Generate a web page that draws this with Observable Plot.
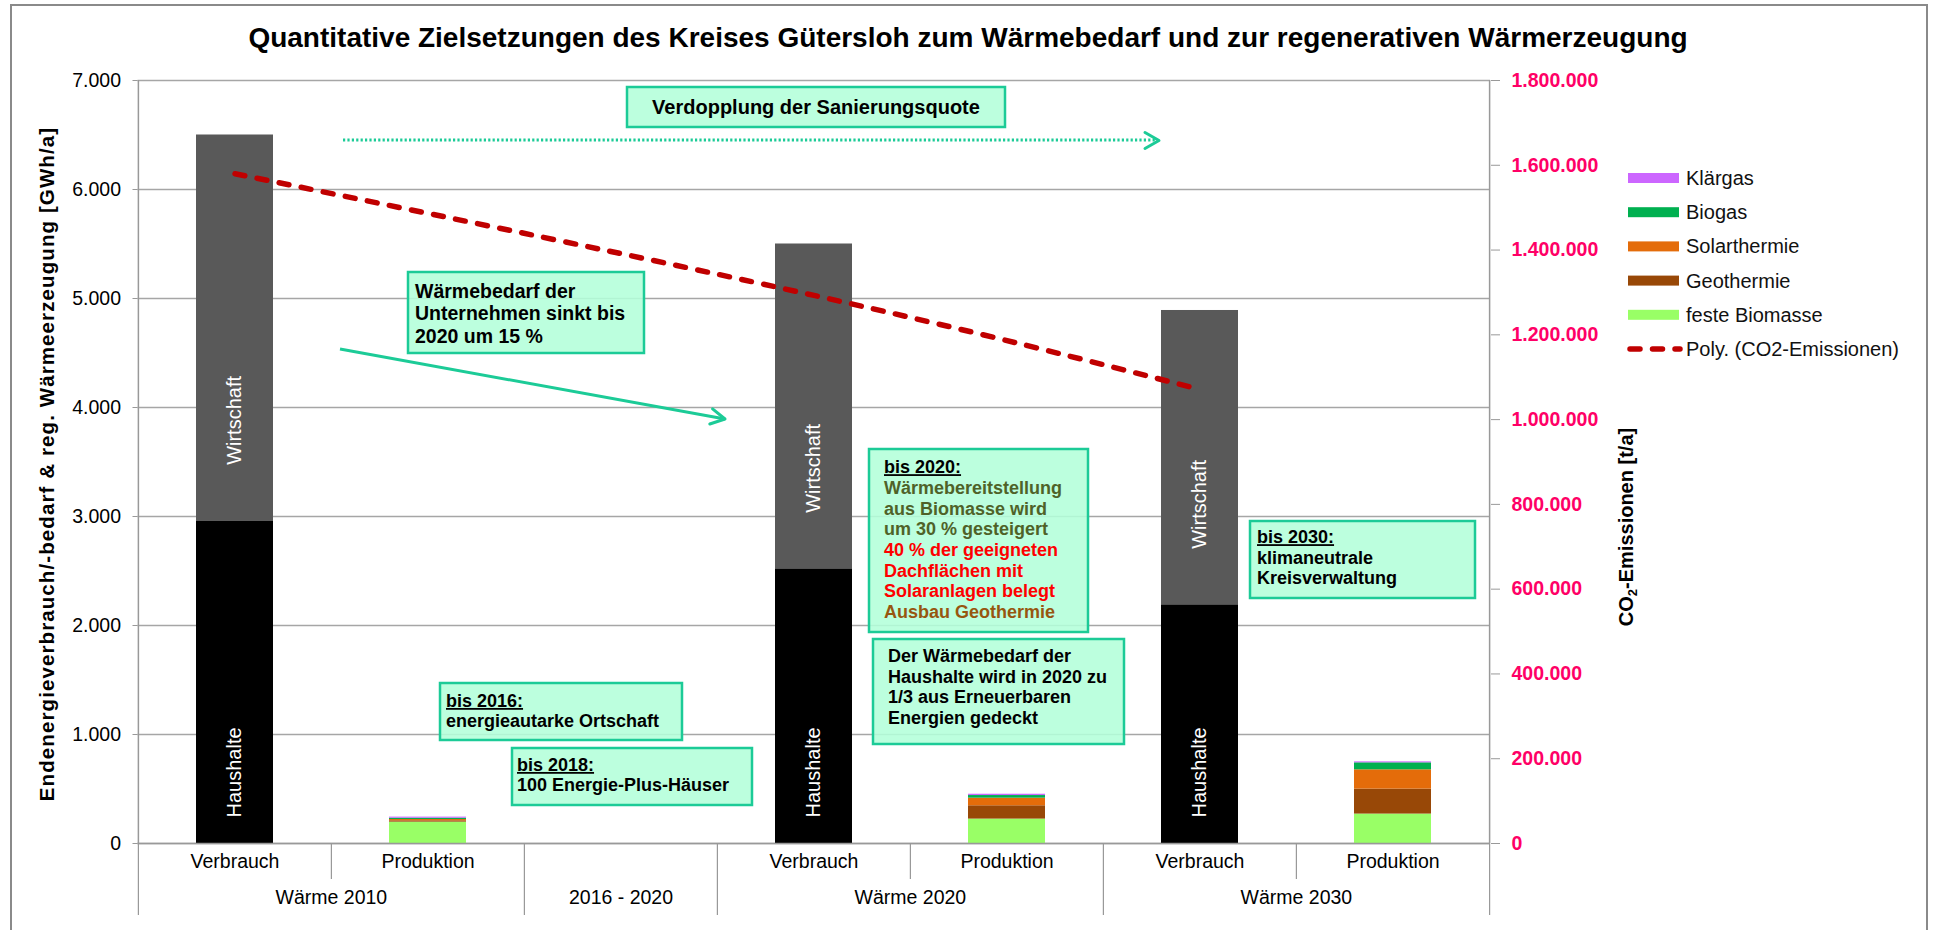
<!DOCTYPE html>
<html>
<head>
<meta charset="utf-8">
<script src="https://cdn.jsdelivr.net/npm/d3@7"></script>
<script src="https://cdn.jsdelivr.net/npm/@observablehq/plot@0.6"></script>
<style>
  html, body { margin: 0; padding: 0; background: #fff; }
  #wrap { position: relative; width: 1934px; height: 930px; overflow: hidden; font-family: "Liberation Sans", Arial, sans-serif; }
  #chart, #overlay { position: absolute; left: 0; top: 0; }
</style>
</head>
<body>
<div id="wrap">
  <div id="chart"></div>
  <svg id="overlay" width="1934" height="930"></svg>
</div>
<script>
// ---------- DATA ----------
const cats = ["V2010", "P2010", "Z1620", "V2020", "P2020", "V2030", "P2030"];
const catLabels = ["Verbrauch", "Produktion", "", "Verbrauch", "Produktion", "Verbrauch", "Produktion"];
const groupCats = ["P2010", "P2020", "P2030"];
const groupLabels = ["Wärme 2010", "Wärme 2020", "Wärme 2030"];
const midGroupCat = "Z1620";
const midGroupLabel = "2016 - 2020";

const verbrauchCats = ["V2010", "V2020", "V2030"];
const haushalte = [2960, 2520, 2190];
const wirtschaft = [3540, 2980, 2700];

const produktionCats = ["P2010", "P2020", "P2030"];
const festeBiomasse = [196, 224, 270];
const geothermie = [12, 122, 229];
const solarthermie = [12, 70, 177];
const biogas = [12, 24, 64];
const klaergas = [10, 12, 9];

const co2Cats = ["V2010", "V2020", "V2030"];
const co2 = [1580000, 1293000, 1071000];

const leftTicks = [0, 1000, 2000, 3000, 4000, 5000, 6000, 7000];
const rightTicks = [0, 200000, 400000, 600000, 800000, 1000000, 1200000, 1400000, 1600000, 1800000];

const seriesNames = ["Haushalte", "Wirtschaft", "feste Biomasse", "Geothermie", "Solarthermie", "Biogas", "Klärgas"];
const seriesColors = ["#000000", "#595959", "#99FF66", "#984807", "#E46C0A", "#00B050", "#CC66FF"];
const legendNames = ["Klärgas", "Biogas", "Solarthermie", "Geothermie", "feste Biomasse"];

// ---------- LAYOUT ----------
const W = 1934, H = 930;
const mL = 137.5, mR = W - 1490, mT = 80, mB = H - 843;
const step = (W - mL - mR) / cats.length;
const pxPer = (H - mT - mB) / 7000;
const k = 7000 / 1800000;
const fmt = v => d3.format(",.0f")(v).replace(/,/g, ".");
const FONT = '"Liberation Sans", Arial, sans-serif';

// table for stacked bars (bottom to top order)
const rows = [];
verbrauchCats.forEach((c, i) => {
  rows.push({cat: c, series: "Haushalte", value: haushalte[i]});
  rows.push({cat: c, series: "Wirtschaft", value: wirtschaft[i]});
});
produktionCats.forEach((c, i) => {
  rows.push({cat: c, series: "feste Biomasse", value: festeBiomasse[i]});
  rows.push({cat: c, series: "Geothermie", value: geothermie[i]});
  rows.push({cat: c, series: "Solarthermie", value: solarthermie[i]});
  rows.push({cat: c, series: "Biogas", value: biogas[i]});
  rows.push({cat: c, series: "Klärgas", value: klaergas[i]});
});
const co2Rows = co2Cats.map((c, i) => ({cat: c, v: co2[i] * k}));
const verbRows = verbrauchCats.map((c, i) => ({cat: c, h: haushalte[i]}));
const groupRows = groupCats.map((c, i) => ({cat: c, label: groupLabels[i]}));

const chart = Plot.plot({
  width: W, height: H,
  marginLeft: mL, marginRight: mR, marginTop: mT, marginBottom: mB,
  style: {fontFamily: FONT, fontSize: "19px", background: "transparent", overflow: "visible"},
  x: {domain: cats, paddingInner: 0.6, paddingOuter: 0.3, axis: null},
  y: {domain: [0, 7000], axis: null},
  color: {domain: seriesNames, range: seriesColors},
  marks: [
    Plot.gridY({ticks: leftTicks, stroke: "#A6A6A6", strokeOpacity: 1, strokeWidth: 1.5}),
    Plot.barY(rows, {x: "cat", y: "value", fill: "series"}),
    // axes lines
    Plot.ruleY([0], {stroke: "#999", strokeWidth: 1.5}),
    Plot.ruleX(["V2010"], {x: d => d, y1: 0, y2: 7000, dx: -step / 2, stroke: "#999", strokeWidth: 1.5}),
    Plot.ruleX(["P2030"], {x: d => d, y1: 0, y2: 7000, dx: step / 2, stroke: "#999", strokeWidth: 1.5}),
    // category dividers below axis
    Plot.ruleX(["P2010", "P2020", "P2030"], {x: d => d, y1: 0, y2: -36 / pxPer, dx: -step / 2, stroke: "#999", strokeWidth: 1.2}),
    Plot.ruleX(["V2010", "Z1620", "V2020", "V2030"], {x: d => d, y1: 0, y2: -72 / pxPer, dx: -step / 2, stroke: "#999", strokeWidth: 1.2}),
    Plot.ruleX(["P2030"], {x: d => d, y1: 0, y2: -72 / pxPer, dx: step / 2, stroke: "#999", strokeWidth: 1.2}),
    // left axis
    Plot.axisY({anchor: "left", ticks: leftTicks, tickFormat: fmt, tickSize: 5, tickPadding: 12,
      fontSize: 19.5, stroke: "#999", fill: "#000", label: null}),
    // right axis (CO2)
    Plot.axisY({anchor: "right", ticks: rightTicks.map(v => v * k), tickFormat: d => fmt(Math.round(d / k)),
      tickSize: 9, tickPadding: 12, fontSize: 19.5, fontWeight: "bold", stroke: "#999", fill: "#FF0066", label: null}),
    // category labels
    Plot.text(cats, {x: d => d, text: (d, i) => catLabels[i], frameAnchor: "bottom", dy: 24, fontSize: 19.5, fill: "#000"}),
    Plot.text(groupRows, {x: "cat", text: "label", frameAnchor: "bottom", dy: 60, dx: -step / 2, fontSize: 19.5, fill: "#000"}),
    Plot.text([midGroupCat], {x: d => d, text: () => midGroupLabel, frameAnchor: "bottom", dy: 60, fontSize: 19.5, fill: "#000"}),
    // bar labels
    Plot.text(verbRows, {x: "cat", y: () => 0, text: () => "Haushalte", rotate: -90, textAnchor: "start", dy: -26, fill: "#fff", fontSize: 20}),
    Plot.text(verbRows, {x: "cat", y: "h", text: () => "Wirtschaft", rotate: -90, textAnchor: "start", dy: -56, fill: "#fff", fontSize: 20}),
    // trend line
    Plot.line(co2Rows, {x: "cat", y: "v", curve: "natural", stroke: "#C00000", strokeWidth: 5.5,
      strokeDasharray: "10 12.5", strokeLinecap: "round"})
  ]
});
document.getElementById("chart").appendChild(chart);

// ---------- OVERLAY: title, axis titles, legend, annotations ----------
const ov = d3.select("#overlay").attr("font-family", FONT);

ov.append("rect").attr("x", 11).attr("y", 5).attr("width", 1916).attr("height", 940)
  .attr("fill", "none").attr("stroke", "#8a8a8a").attr("stroke-width", 2);

ov.append("text").attr("x", 968).attr("y", 47).attr("text-anchor", "middle")
  .attr("font-weight", "bold").attr("font-size", 28).attr("fill", "#000")
  .text("Quantitative Zielsetzungen des Kreises Gütersloh zum Wärmebedarf und zur regenerativen Wärmerzeugung");

ov.append("text").attr("transform", "translate(54,464) rotate(-90)").attr("text-anchor", "middle")
  .attr("font-weight", "bold").attr("font-size", 20.5).attr("letter-spacing", 1.1).attr("fill", "#000")
  .text("Endenergieverbrauch/-bedarf & reg. Wärmeerzeugung [GWh/a]");

const rt = ov.append("text").attr("transform", "translate(1633,527) rotate(-90)").attr("text-anchor", "middle")
  .attr("font-weight", "bold").attr("font-size", 20).attr("fill", "#000");
rt.append("tspan").text("CO");
rt.append("tspan").attr("font-size", 13).attr("dy", 4).text("2");
rt.append("tspan").attr("dy", -4).text("-Emissionen [t/a]");

// legend
const lgY0 = 178, lgStep = 34.2;
legendNames.forEach((n, i) => {
  const y = lgY0 + i * lgStep;
  ov.append("rect").attr("x", 1628).attr("y", y - 5).attr("width", 51).attr("height", 10)
    .attr("fill", seriesColors[seriesNames.indexOf(n)]);
  ov.append("text").attr("x", 1686).attr("y", y + 7).attr("font-size", 20).attr("fill", "#111").text(n);
});
{
  const y = lgY0 + 5 * lgStep;
  ov.append("line").attr("x1", 1630).attr("x2", 1680).attr("y1", y).attr("y2", y)
    .attr("stroke", "#C00000").attr("stroke-width", 5.5).attr("stroke-dasharray", "10 12.5").attr("stroke-linecap", "round");
  ov.append("text").attr("x", 1686).attr("y", y + 7).attr("font-size", 20).attr("fill", "#111").text("Poly. (CO2-Emissionen)");
}

// annotation boxes
const BOXFILL = "#b3ffd9", BOXSTROKE = "#1ccb97";
function box(x, y, w, h, lines, o) {
  ov.append("rect").attr("x", x).attr("y", y).attr("width", w).attr("height", h)
    .attr("fill", BOXFILL).attr("fill-opacity", 0.88).attr("stroke", BOXSTROKE).attr("stroke-width", 2.5);
  lines.forEach((ln, i) => {
    const cy = y + o.first + i * o.lh;
    const t = ov.append("text")
      .attr("x", o.center ? x + w / 2 : x + o.pad)
      .attr("y", cy + 0.36 * o.fs)
      .attr("text-anchor", o.center ? "middle" : "start")
      .attr("font-weight", "bold").attr("font-size", o.fs)
      .attr("fill", ln.c || "#000").text(ln.t);
    if (ln.u) t.attr("text-decoration", "underline");
  });
}
box(627, 87, 378, 40, [{t: "Verdopplung der Sanierungsquote"}], {first: 20, lh: 20, fs: 20, center: true});
box(408, 272, 236, 81, [{t: "Wärmebedarf der"}, {t: "Unternehmen sinkt bis"}, {t: "2020 um 15 %"}],
  {first: 18.5, lh: 22.5, fs: 19.5, pad: 7});
box(440, 683, 242, 57, [{t: "bis 2016:", u: true}, {t: "energieautarke Ortschaft"}], {first: 17.5, lh: 20, fs: 18, pad: 6});
box(512, 748, 240, 57, [{t: "bis 2018:", u: true}, {t: "100 Energie-Plus-Häuser"}], {first: 16.5, lh: 20, fs: 18, pad: 5});
box(869, 449, 219, 183, [
  {t: "bis 2020:", u: true},
  {t: "Wärmebereitstellung", c: "#4F6228"},
  {t: "aus Biomasse wird", c: "#4F6228"},
  {t: "um 30 % gesteigert", c: "#4F6228"},
  {t: "40 % der geeigneten", c: "#FF0000"},
  {t: "Dachflächen mit", c: "#FF0000"},
  {t: "Solaranlagen belegt", c: "#FF0000"},
  {t: "Ausbau Geothermie", c: "#97560f"}
], {first: 17.7, lh: 20.7, fs: 18, pad: 15});
box(873, 639, 251, 105, [{t: "Der Wärmebedarf der"}, {t: "Haushalte wird in 2020 zu"}, {t: "1/3 aus Erneuerbaren"}, {t: "Energien gedeckt"}],
  {first: 17, lh: 20.5, fs: 18, pad: 15});
box(1250, 521, 225, 77, [{t: "bis 2030:", u: true}, {t: "klimaneutrale"}, {t: "Kreisverwaltung"}], {first: 15.7, lh: 20.5, fs: 18, pad: 7});

// arrows
const ARROW = "#1ccb97";
ov.append("line").attr("x1", 343).attr("y1", 140).attr("x2", 1157).attr("y2", 140)
  .attr("stroke", ARROW).attr("stroke-width", 3).attr("stroke-dasharray", "2.2 2.2");
ov.append("path").attr("d", "M1145,132.5 L1159,140.5 L1145,148.5").attr("fill", "none")
  .attr("stroke", ARROW).attr("stroke-width", 3).attr("stroke-linecap", "round").attr("stroke-linejoin", "round");
{
  const x1 = 340, y1 = 349, x2 = 725, y2 = 419;
  const a = Math.atan2(y2 - y1, x2 - x1), L = 16, s = 0.5;
  ov.append("line").attr("x1", x1).attr("y1", y1).attr("x2", x2).attr("y2", y2)
    .attr("stroke", ARROW).attr("stroke-width", 3);
  const p1 = [x2 - L * Math.cos(a - s), y2 - L * Math.sin(a - s)];
  const p2 = [x2 - L * Math.cos(a + s), y2 - L * Math.sin(a + s)];
  ov.append("path").attr("d", `M${p1} L${x2},${y2} L${p2}`).attr("fill", "none")
    .attr("stroke", ARROW).attr("stroke-width", 3).attr("stroke-linecap", "round").attr("stroke-linejoin", "round");
}
</script>
</body>
</html>
